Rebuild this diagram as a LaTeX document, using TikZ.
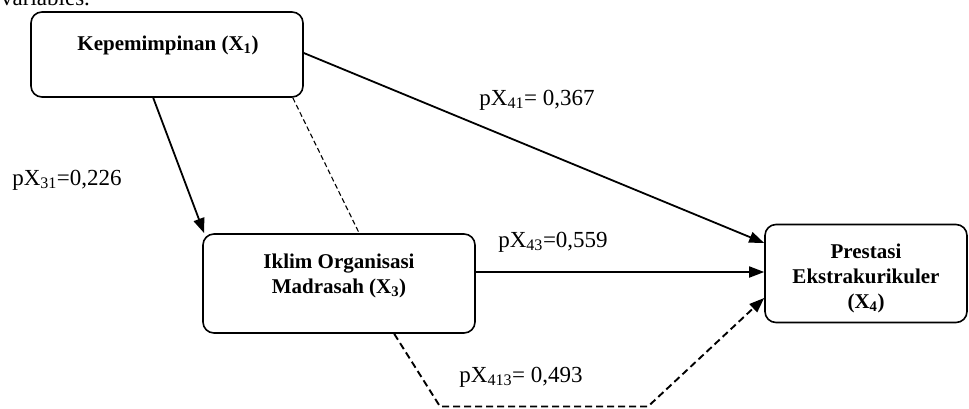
\documentclass[tikz,border=0pt]{standalone}
\usepackage{fontspec}
\setmainfont{Liberation Serif}
\usetikzlibrary{arrows.meta,calc}
\begin{document}
\begin{tikzpicture}[x=1pt,y=-1pt,
  varbox/.style={draw, line width=1.6pt, rounded corners=11pt, inner sep=0pt},
  boxtext/.style={font=\fontsize{21}{25}\selectfont\bfseries, align=center, inner sep=0pt},
  coef/.style={font=\fontsize{23}{27}\selectfont, inner sep=0pt},
  path/.style={line width=1.8pt, -{Triangle[length=15pt,width=11pt]}},
  indirect/.style={line width=1.1pt, dash pattern=on 5pt off 3pt},
  indirectarrow/.style={line width=1.9pt, dash pattern=on 7pt off 4pt, -{Triangle[length=15pt,width=11pt]}}]
\useasboundingbox (0,0) rectangle (969,408);
\clip (0,0) rectangle (969,408);

% lead-in text above the figure
\node[coef, anchor=base west] (lead) at (1,5) {variables.};

% variable boxes
\node[varbox, minimum width=272pt, minimum height=85pt] (x1) at (167,54.5) {};
\node[varbox, minimum width=272pt, minimum height=99pt] (x3) at (339,283.5) {};
\node[varbox, minimum width=202pt, minimum height=98pt] (x4) at (866,273.5) {};

\node[boxtext] (t1) at (168,45) {Kepemimpinan (X\textsubscript{1})};
\node[boxtext] (t3) at (339,275.5) {Iklim Organisasi\\Madrasah (X\textsubscript{3})};
\node[boxtext] (t4) at (866,278) {Prestasi\\Ekstrakurikuler\\(X\textsubscript{4})};

% path coefficients
\node[coef] (p41) at (537,100) {pX\textsubscript{41}= 0,367};
\node[coef] (p31) at (67,180) {pX\textsubscript{31}=0,226};
\node[coef] (p43) at (553,242) {pX\textsubscript{43}=0,559};
\node[coef] (p413) at (521,377) {pX\textsubscript{413}= 0,493};

% direct paths (shifts are in canvas units: positive = upwards)
\draw[path] ([xshift=123pt]x1.south west) -- ([xshift=2pt]x3.north west);
\draw[path] ([yshift=1.5pt]x1.east) -- ([yshift=30.5pt]x4.west);
\draw[path] ([yshift=11.5pt]x3.east) -- ([yshift=1.5pt]x4.west);

% indirect path through X3
\draw[indirect] ([xshift=-11pt]x1.south east) -- ([xshift=157pt]x3.north west);
\coordinate (b1) at (440,406.5);
\coordinate (b2) at (648,406.5);
\draw[indirectarrow] ([xshift=192pt]x3.south west) -- (b1) -- (b2) -- ([yshift=-24.5pt]x4.west);
\end{tikzpicture}
\end{document}
